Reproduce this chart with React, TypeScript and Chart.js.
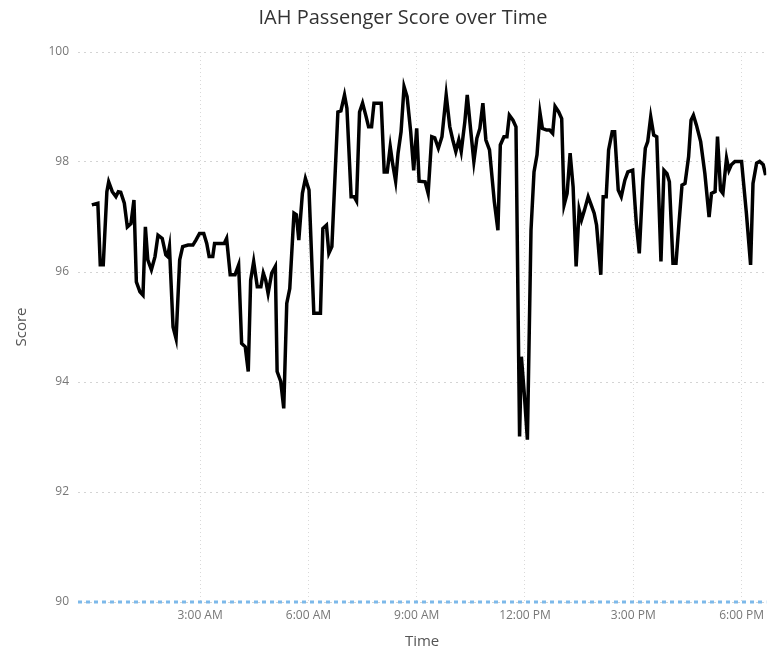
import React, { useEffect, useRef } from "react";
import { Chart, registerables } from "chart.js";

Chart.register(...registerables);

const chartTitle = "IAH Passenger Score over Time";
const xAxisTitle = "Time";
const yAxisTitle = "Score";

// minutes since midnight
const times = [
  0, 10, 14, 19, 25, 28, 34, 40, 44, 48,
  54, 59, 65, 70, 74, 80, 85, 89, 93, 99,
  105, 110, 117, 123, 126, 129, 135, 140, 146, 151,
  160, 168, 173, 179, 186, 191, 195, 201, 204, 212,
  220, 224, 230, 238, 244, 249, 255, 260, 264, 269,
  275, 281, 285, 289, 293, 299, 305, 308, 314, 319,
  324, 329, 336, 340, 344, 350, 355, 361, 369, 380,
  384, 390, 394, 399, 409, 414, 420, 424, 431, 436,
  440, 445, 450, 456, 460, 465, 469, 476, 481, 486,
  491, 496, 500, 505, 509, 514, 519, 524, 530, 535,
  540, 544, 554, 559, 565, 570, 576, 582, 589, 595,
  600, 605, 610, 614, 620, 624, 630, 635, 640, 645,
  650, 655, 661, 669, 675, 679, 685, 690, 694, 700,
  705, 711, 714, 719, 724, 730, 735, 740, 745, 749,
  756, 761, 766, 770, 776, 781, 785, 790, 795, 800,
  805, 810, 814, 819, 825, 830, 835, 839, 846, 850,
  855, 859, 865, 869, 875, 880, 886, 891, 899, 905,
  910, 916, 920, 924, 929, 934, 939, 946, 951, 956,
  960, 966, 971, 976, 981, 986, 992, 996, 1000, 1005,
  1012, 1019, 1026, 1030, 1036, 1040, 1045, 1049, 1055, 1059,
  1063, 1069, 1080, 1088, 1095, 1099, 1105, 1110, 1116, 1120,
];

const scores = [
  97.22, 97.25, 96.13, 96.13, 97.46, 97.64, 97.46, 97.37, 97.46, 97.45,
  97.25, 96.82, 96.88, 97.31, 95.82, 95.64, 95.58, 96.82, 96.22, 96.04,
  96.28, 96.67, 96.61, 96.31, 96.28, 96.46, 95.0, 94.79, 96.22, 96.46,
  96.49, 96.49, 96.58, 96.7, 96.7, 96.52, 96.28, 96.28, 96.52, 96.52,
  96.52, 96.61, 95.95, 95.95, 96.13, 94.7, 94.64, 94.19, 95.85, 96.19,
  95.73, 95.73, 95.98, 95.85, 95.61, 95.98, 96.1, 94.19, 94.01, 93.52,
  95.43, 95.7, 97.07, 97.04, 96.58, 97.43, 97.7, 97.49, 95.25, 95.25,
  96.79, 96.85, 96.34, 96.46, 98.91, 98.93, 99.22, 98.98, 97.37, 97.37,
  97.29, 98.91, 99.07, 98.82, 98.64, 98.64, 99.07, 99.07, 99.07, 97.82,
  97.82, 98.28, 97.97, 97.65, 98.16, 98.55, 99.37, 99.19, 98.55, 97.85,
  98.61, 97.65, 97.64, 97.43, 98.46, 98.44, 98.25, 98.46, 99.22, 98.64,
  98.4, 98.19, 98.4, 98.19, 98.73, 99.22, 98.55, 98.01, 98.43, 98.61,
  99.07, 98.4, 98.22, 97.28, 96.76, 98.31, 98.46, 98.46, 98.85, 98.76,
  98.64, 93.01, 94.46, 93.76, 92.95, 96.76, 97.82, 98.13, 98.89, 98.61,
  98.58, 98.58, 98.52, 99.01, 98.91, 98.79, 97.22, 97.43, 98.16, 97.55,
  96.1, 97.13, 96.95, 97.13, 97.37, 97.22, 97.07, 96.85, 95.95, 97.37,
  97.37, 98.22, 98.55, 98.55, 97.49, 97.37, 97.67, 97.82, 97.85, 96.89,
  96.34, 97.67, 98.25, 98.37, 98.82, 98.49, 98.46, 96.19, 97.85, 97.79,
  97.64, 96.16, 96.16, 96.89, 97.58, 97.61, 98.1, 98.76, 98.85, 98.67,
  98.37, 97.79, 97.0, 97.43, 97.46, 98.46, 97.49, 97.43, 98.07, 97.85,
  97.95, 98.01, 98.01, 97.07, 96.13, 97.61, 97.98, 98.01, 97.95, 97.76,
];

const xTickValues = [180, 360, 540, 720, 900, 1080];
const xTickLabels = ["3:00 AM", "6:00 AM", "9:00 AM", "12:00 PM", "3:00 PM", "6:00 PM"];
const xRange = [-23, 1121];
const yTickValues = [90, 92, 94, 96, 98, 100];
const referenceValue = 90;

const FONT = "'Segoe UI', 'Open Sans', sans-serif";

const titlePlugin = {
  id: "customTitle",
  afterDraw(chart: any) {
    const ctx = chart.ctx;
    ctx.save();
    ctx.font = `20px ${FONT}`;
    ctx.fillStyle = "#333333";
    ctx.textAlign = "center";
    ctx.textBaseline = "middle";
    ctx.fillText(chartTitle, 403, 18);
    ctx.restore();
  },
};

export default function App() {
  const ref = useRef<HTMLCanvasElement | null>(null);

  useEffect(() => {
    if (!ref.current) return;
    const lineData = times.map((t, i) => ({ x: t, y: scores[i] }));
    const refData = xRange.map((x) => ({ x, y: referenceValue }));
    const chart = new Chart(ref.current, {
      type: "line",
      data: {
        datasets: [
          {
            label: "Score",
            data: lineData,
            borderColor: "#000000",
            borderWidth: 3.5,
            pointRadius: 0,
            tension: 0,
            borderJoinStyle: "miter",
            fill: false,
          },
          {
            label: "Reference",
            data: refData,
            borderColor: "#7db9ea",
            borderWidth: 3,
            borderDash: [4, 4],
            pointRadius: 0,
            fill: false,
            clip: false as any,
          },
        ],
      },
      plugins: [titlePlugin],
      options: {
        animation: false,
        responsive: true,
        maintainAspectRatio: false,
        layout: { padding: { top: 52, left: 0, right: 0, bottom: 0 } },
        plugins: {
          legend: { display: false },
          title: { display: false },
          tooltip: { enabled: false },
        },
        scales: {
          x: {
            type: "linear",
            min: xRange[0],
            max: xRange[1],
            afterBuildTicks: (scale: any) => {
              scale.ticks = xTickValues.map((v) => ({ value: v }));
            },
            afterFit: (scale: any) => {
              scale.height = 51;
            },
            ticks: {
              autoSkip: false,
              maxRotation: 0,
              padding: 6,
              color: "#777777",
              font: { family: FONT, size: 12 },
              callback: (v: any) => {
                const i = xTickValues.indexOf(Number(v));
                return i >= 0 ? xTickLabels[i] : "";
              },
            },
            grid: {
              color: "#d9d9d9",
              drawTicks: false,
              lineWidth: 1,
            },
            border: { display: false, dash: [1, 3] },
            title: {
              display: true,
              text: xAxisTitle,
              color: "#555555",
              font: { family: FONT, size: 15 },
              padding: { top: 0, bottom: 2 },
            },
          },
          y: {
            type: "linear",
            min: 90,
            max: 100,
            afterBuildTicks: (scale: any) => {
              scale.ticks = yTickValues.map((v) => ({ value: v }));
            },
            afterFit: (scale: any) => {
              scale.width = 78;
            },
            ticks: {
              padding: 9,
              color: "#777777",
              font: { family: FONT, size: 12 },
            },
            grid: {
              color: "#d4d4d4",
              drawTicks: false,
              lineWidth: 1,
            },
            border: { display: false, dash: [2, 4] },
            title: {
              display: true,
              text: yAxisTitle,
              color: "#555555",
              font: { family: FONT, size: 15 },
              padding: { top: 13, bottom: 0 },
            },
          },
        },
      },
    });
    return () => chart.destroy();
  }, []);

  return (
    <div style={{ position: "fixed", left: 0, top: 0, width: 770, height: 653, background: "#ffffff" }}>
      <canvas ref={ref} />
    </div>
  );
}
